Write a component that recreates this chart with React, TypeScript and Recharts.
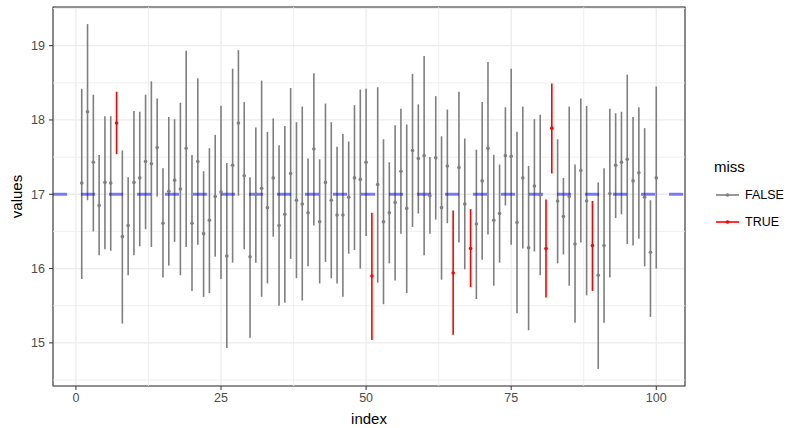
import { ComposedChart, Scatter, ErrorBar, XAxis, YAxis, CartesianGrid, ReferenceLine, ReferenceArea, Label } from 'recharts';

// readings of the pointrange plot, index 1..100
const centre = [
  17.15, 18.11, 17.43, 16.85, 17.16, 17.15, 17.96, 16.43, 16.58, 17.16,
  17.22, 17.44, 17.41, 17.63, 16.61, 17.04, 17.19, 17.07, 17.62, 16.61,
  17.44, 16.47, 16.65, 16.97, 17.03, 16.17, 17.39, 17.96, 17.25, 16.16,
  17.00, 17.08, 16.82, 17.22, 16.58, 16.73, 17.28, 16.92, 16.87, 16.75,
  17.61, 16.63, 17.16, 16.92, 16.72, 16.72, 16.96, 17.22, 17.20, 17.43,
  15.90, 17.13, 16.63, 16.75, 16.89, 17.31, 16.81, 17.59, 17.48, 17.52,
  16.98, 17.49, 16.82, 17.38, 15.94, 17.36, 16.87, 16.27, 16.60, 17.18,
  17.62, 16.65, 16.74, 17.52, 17.51, 16.62, 17.22, 16.28, 17.11, 16.99,
  16.27, 17.89, 16.91, 16.70, 16.97, 16.33, 17.32, 16.91, 16.31, 15.91,
  16.31, 17.01, 17.39, 17.43, 17.47, 17.18, 17.29, 16.96, 16.22, 17.22,
];
const lower = [
  15.86, 16.92, 16.50, 16.18, 16.26, 16.24, 17.54, 15.26, 15.91, 16.18,
  16.30, 16.53, 16.29, 16.97, 15.88, 16.04, 16.36, 15.91, 16.29, 15.70,
  16.32, 15.62, 15.67, 16.16, 15.86, 14.93, 16.08, 16.98, 16.26, 15.07,
  16.08, 15.62, 15.80, 16.43, 15.50, 15.54, 16.13, 15.87, 15.57, 16.03,
  16.58, 15.80, 16.09, 15.87, 15.80, 15.62, 16.20, 16.25, 16.00, 16.44,
  15.04, 15.81, 15.52, 16.07, 15.84, 16.47, 15.67, 16.56, 16.74, 16.18,
  16.47, 16.66, 15.85, 16.61, 15.11, 16.35, 15.99, 15.75, 15.59, 16.12,
  16.46, 15.77, 16.08, 16.85, 16.32, 15.40, 16.27, 15.17, 16.23, 15.91,
  15.61, 17.28, 16.07, 16.19, 15.77, 15.27, 16.35, 15.64, 15.70, 14.65,
  15.27, 15.88, 16.68, 16.73, 16.33, 16.31, 16.40, 16.03, 15.35, 16.00,
];
const upper = [
  18.42, 19.29, 18.34, 17.53, 18.05, 18.05, 18.38, 17.59, 17.23, 18.12,
  18.11, 18.34, 18.52, 18.29, 17.35, 18.04, 18.01, 18.23, 18.93, 17.53,
  18.56, 17.31, 17.62, 17.80, 18.19, 17.42, 18.69, 18.94, 18.24, 17.23,
  17.90, 18.53, 17.84, 18.02, 17.66, 17.92, 18.43, 17.97, 18.18, 17.48,
  18.63, 17.47, 18.22, 17.97, 17.64, 17.81, 17.71, 18.20, 18.41, 18.42,
  16.75, 18.44, 17.74, 17.43, 17.93, 18.15, 17.94, 18.62, 18.21, 18.86,
  17.50, 18.32, 17.78, 18.14, 16.78, 18.38, 17.75, 16.80, 17.60, 18.24,
  18.78, 17.53, 17.40, 18.17, 18.69, 17.84, 18.18, 17.38, 18.01, 18.07,
  16.93, 18.49, 17.74, 17.22, 18.18, 17.40, 18.29, 18.19, 16.91, 17.16,
  17.35, 18.15, 18.09, 18.11, 18.61, 18.04, 18.17, 17.89, 16.92, 18.45,
];
const missing = [7, 51, 65, 68, 81, 82, 89];

const target = 17;
const xTicks = [0, 25, 50, 75, 100];
const xMinor = [12.5, 37.5, 62.5, 87.5];
const yTicks = [15, 16, 17, 18, 19];
const yMinor = [14.5, 15.5, 16.5, 17.5, 18.5, 19.5];

const X_DOMAIN: [number, number] = [-3.95, 104.95];
const Y_DOMAIN: [number, number] = [14.42, 19.52];

const GREY = '#7f7f7f';
const RED = '#ff0000';

const rows = centre.map((v, i) => ({
  index: i + 1,
  value: v,
  err: [v - lower[i], upper[i] - v],
  miss: missing.includes(i + 1),
}));

const groups = [
  { label: 'FALSE', color: GREY, data: rows.filter(r => !r.miss) },
  { label: 'TRUE', color: RED, data: rows.filter(r => r.miss) },
];

const dot = (color: string) => (p: any) => <circle cx={p.cx} cy={p.cy} r={1.8} fill={color} />;

const tickStyle = { fill: '#4d4d4d', fontSize: 12.5 };

export default function App() {
  return (
    <div style={{ position: 'absolute', left: 0, top: 0, width: 790, height: 428, background: '#fff', fontFamily: '"Liberation Sans", Arial, sans-serif' }}>
      <ComposedChart width={790} height={428} margin={{ top: 7, right: 105, bottom: 0, left: 0 }}>
        <CartesianGrid stroke="#ebebeb" strokeWidth={1.3} />
        {xMinor.map(v => <ReferenceLine key={`xm${v}`} x={v} stroke="#ebebeb" strokeWidth={0.8} />)}
        {yMinor.map(v => <ReferenceLine key={`ym${v}`} y={v} stroke="#ebebeb" strokeWidth={0.8} />)}
        <XAxis
          dataKey="index"
          type="number"
          domain={X_DOMAIN}
          ticks={xTicks}
          allowDataOverflow
          height={42}
          tickSize={4}
          tickMargin={3}
          axisLine={false}
          tickLine={{ stroke: '#333' }}
          tick={tickStyle}
        >
          <Label content={({ viewBox }: any) => (
            <text x={viewBox.x + viewBox.width / 2} y={viewBox.y + 32} textAnchor="middle" dominantBaseline="central" fontSize={15} fill="#000">index</text>
          )} />
        </XAxis>
        <YAxis
          dataKey="value"
          type="number"
          domain={Y_DOMAIN}
          ticks={yTicks}
          allowDataOverflow
          width={53}
          tickSize={4}
          tickMargin={4}
          axisLine={false}
          tickLine={{ stroke: '#333' }}
          tick={tickStyle}
        >
          <Label content={({ viewBox }: any) => {
            const cx = viewBox.x + 16;
            const cy = viewBox.y + viewBox.height / 2;
            return (
              <text x={cx} y={cy} transform={`rotate(-90 ${cx} ${cy})`} textAnchor="middle" dominantBaseline="central" fontSize={15} fill="#000">values</text>
            );
          }} />
        </YAxis>
        {groups.map(g => (
          <Scatter key={g.label} name={g.label} data={g.data} dataKey="value" shape={dot(g.color)} isAnimationActive={false}>
            <ErrorBar dataKey="err" direction="y" width={0} stroke={g.color} strokeWidth={1.6} isAnimationActive={false} />
          </Scatter>
        ))}
        <ReferenceLine y={target} stroke="#0000ff" strokeOpacity={0.5} strokeWidth={3} strokeDasharray="14 14" />
        <ReferenceArea x1={X_DOMAIN[0]} x2={X_DOMAIN[1]} y1={Y_DOMAIN[0]} y2={Y_DOMAIN[1]} fill="none" stroke="#333" strokeWidth={1.1} />
      </ComposedChart>

      <div style={{ position: 'absolute', left: 700, top: 158, color: '#000' }}>
        <div style={{ fontSize: 15, marginLeft: 14, marginBottom: 6 }}>miss</div>
        {groups.map(g => (
          <div key={g.label} style={{ display: 'flex', alignItems: 'center', height: 27.5, fontSize: 12.5 }}>
            <svg width={40} height={12} style={{ marginLeft: 14 }}>
              <line x1={2} x2={25} y1={6} y2={6} stroke={g.color} strokeWidth={1.6} />
              <circle cx={13.5} cy={6} r={1.8} fill={g.color} />
            </svg>
            <span style={{ marginLeft: -9 }}>{g.label}</span>
          </div>
        ))}
      </div>
    </div>
  );
}
